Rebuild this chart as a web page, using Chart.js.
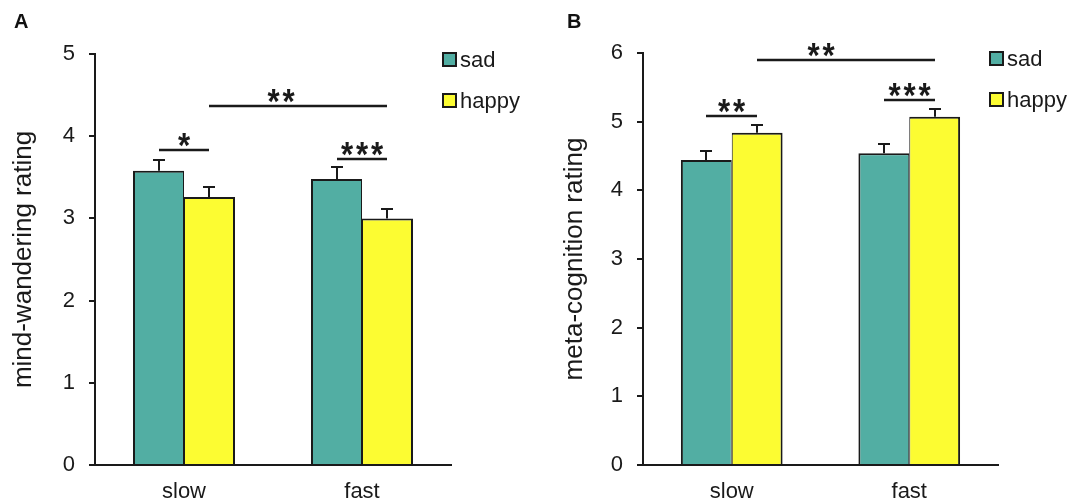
<!DOCTYPE html>
<html>
<head>
<meta charset="utf-8">
<script src="https://cdn.jsdelivr.net/npm/chart.js@4"></script>
<style>
  html, body { margin: 0; padding: 0; background: #fff; }
  body { width: 1079px; height: 504px; position: relative; overflow: hidden; font-family: "Liberation Sans", Arial, sans-serif; }
  .panel { position: absolute; top: 0; height: 504px; }
  .letter { position: absolute; top: 10px; font-weight: bold; font-size: 20px; color: #111; }
</style>
</head>
<body>
<div class="panel" style="left:0;width:540px"><canvas id="chartA" width="540" height="504"></canvas></div>
<div class="panel" style="left:540px;width:539px"><canvas id="chartB" width="539" height="504"></canvas></div>
<div class="letter" style="left:14px">A</div>
<div class="letter" style="left:567px">B</div>
<script>
// data
var categories = ['slow', 'fast'];
var seriesNames = ['sad', 'happy'];

var mindSad = [3.58, 3.48];
var mindHappy = [3.26, 3.00];
var mindSadErr = [0.13, 0.14];
var mindHappyErr = [0.12, 0.11];

var metaSad = [4.44, 4.54];
var metaHappy = [4.84, 5.07];
var metaSadErr = [0.14, 0.13];
var metaHappyErr = [0.11, 0.11];

// significance bars: [category, series] -> [category, series], height in axis units
var mindSig = [
  { from: [0, 0], to: [0, 1], y: 3.83, label: '*' },
  { from: [1, 0], to: [1, 1], y: 3.72, label: '***' },
  { from: [0, 1], to: [1, 1], y: 4.37, label: '**', dx: -17 }
];
var metaSig = [
  { from: [0, 0], to: [0, 1], y: 5.08, label: '**' },
  { from: [1, 0], to: [1, 1], y: 5.31, label: '***' },
  { from: [0, 1], to: [1, 1], y: 5.90, label: '**', dx: -25 }
];

var TEAL = '#52aea3';
var YELLOW = '#fcfc32';
var INK = '#1a1a1a';
var FONT = '"Liberation Sans", Arial, sans-serif';

var extrasPlugin = {
  id: 'extras',
  afterDatasetsDraw: function(chart, args, opts) {
    var ctx = chart.ctx;
    var y = chart.scales.y;
    ctx.save();
    ctx.strokeStyle = INK;
    ctx.lineWidth = 2;

    // error bars (upper half only, lower half hidden by bar)
    chart.data.datasets.forEach(function(ds, di) {
      var meta = chart.getDatasetMeta(di);
      meta.data.forEach(function(bar, i) {
        var top = Math.round(y.getPixelForValue(ds.data[i] + ds.errors[i]));
        var bx = Math.round(bar.x);
        ctx.beginPath();
        ctx.moveTo(bx, bar.y);
        ctx.lineTo(bx, top);
        ctx.moveTo(bx - 6, top);
        ctx.lineTo(bx + 6, top);
        ctx.stroke();
      });
    });

    // significance lines and stars
    ctx.font = 'bold 40px ' + FONT;
    var m0 = ctx.measureText('*');
    var starSize = 40 * 14 / (m0.actualBoundingBoxAscent + m0.actualBoundingBoxDescent);
    var stretch = 12.5 / ((m0.actualBoundingBoxLeft + m0.actualBoundingBoxRight) * starSize / 40);
    opts.sig.forEach(function(s) {
      var x1 = Math.round(chart.getDatasetMeta(s.from[1]).data[s.from[0]].x);
      var x2 = Math.round(chart.getDatasetMeta(s.to[1]).data[s.to[0]].x);
      var ly = Math.round(y.getPixelForValue(s.y));
      ctx.lineWidth = 2.5;
      ctx.beginPath();
      ctx.moveTo(x1, ly);
      ctx.lineTo(x2, ly);
      ctx.stroke();
      ctx.fillStyle = INK;
      ctx.font = 'bold ' + starSize.toFixed(1) + 'px ' + FONT;
      ctx.textAlign = 'center';
      ctx.textBaseline = 'alphabetic';
      var m = ctx.measureText('*');
      var step = 15;
      var cx = (x1 + x2) / 2 + (s.dx || 0);
      var n = s.label.length;
      // glyph bottom sits ~2px above the line
      var base = ly - 3 - m.actualBoundingBoxDescent;
      for (var k = 0; k < n; k++) {
        ctx.save();
        ctx.translate(cx + (k - (n - 1) / 2) * step, base);
        ctx.scale(stretch, 1);
        ctx.fillText('*', 0, 0);
        ctx.restore();
      }
    });

    // legend
    var lx = Math.round(chart.chartArea.right - 8);
    var ly0 = Math.round(chart.chartArea.top - 1);
    ctx.lineWidth = 2;
    ctx.font = '22px ' + FONT;
    ctx.textAlign = 'left';
    ctx.textBaseline = 'alphabetic';
    chart.data.datasets.forEach(function(ds, di) {
      var by = ly0 + di * 41;
      ctx.fillStyle = ds.backgroundColor;
      ctx.fillRect(lx, by, 13, 13);
      ctx.strokeRect(lx, by, 13, 13);
      ctx.fillStyle = INK;
      ctx.fillText(ds.label, lx + 17, by + 14);
    });
    ctx.restore();
  }
};

function makeChart(id, cfg) {
  var barBase = {
    borderColor: INK,
    borderSkipped: false,
    categoryPercentage: 0.573,
    barPercentage: 1.0
  };
  return new Chart(document.getElementById(id), {
    type: 'bar',
    data: {
      labels: categories,
      datasets: [
        Object.assign({ label: seriesNames[0], data: cfg.sad, errors: cfg.sadErr, backgroundColor: TEAL,
          borderWidth: { top: 2, left: 2, right: 1, bottom: 0 } }, barBase),
        Object.assign({ label: seriesNames[1], data: cfg.happy, errors: cfg.happyErr, backgroundColor: YELLOW,
          borderWidth: { top: 2, left: 1, right: 2, bottom: 0 } }, barBase)
      ]
    },
    options: {
      responsive: false,
      animation: false,
      events: [],
      layout: { padding: { top: cfg.top, right: cfg.right, left: 0, bottom: 0 } },
      plugins: {
        legend: { display: false },
        tooltip: { enabled: false },
        extras: { sig: cfg.sig }
      },
      scales: {
        x: {
          grid: { display: false, drawTicks: false },
          border: { display: true, color: INK, width: 2 },
          ticks: { color: INK, padding: 14, font: { size: 22, family: FONT } },
          afterFit: function(s) { s.height = 39; }
        },
        y: {
          min: 0,
          max: cfg.max,
          ticks: { stepSize: 1, color: INK, padding: 14, font: { size: 22, family: FONT } },
          grid: { drawOnChartArea: false, drawTicks: true, tickLength: 6, lineWidth: 2, color: INK },
          border: { display: true, color: INK, width: 2 },
          title: { display: true, text: cfg.title, color: INK, padding: { top: cfg.titlePad, bottom: 0 },
            font: { size: 26, family: FONT } },
          afterFit: function(s) { s.width = cfg.left; }
        }
      }
    },
    plugins: [extrasPlugin]
  });
}

makeChart('chartA', {
  sad: mindSad, happy: mindHappy, sadErr: mindSadErr, happyErr: mindHappyErr,
  sig: mindSig, max: 5, title: 'mind-wandering rating',
  left: 95, right: 89, top: 54, titlePad: 8
});
makeChart('chartB', {
  sad: metaSad, happy: metaHappy, sadErr: metaSadErr, happyErr: metaHappyErr,
  sig: metaSig, max: 6, title: 'meta-cognition rating',
  left: 103, right: 81, top: 53, titlePad: 19
});
</script>
</body>
</html>
